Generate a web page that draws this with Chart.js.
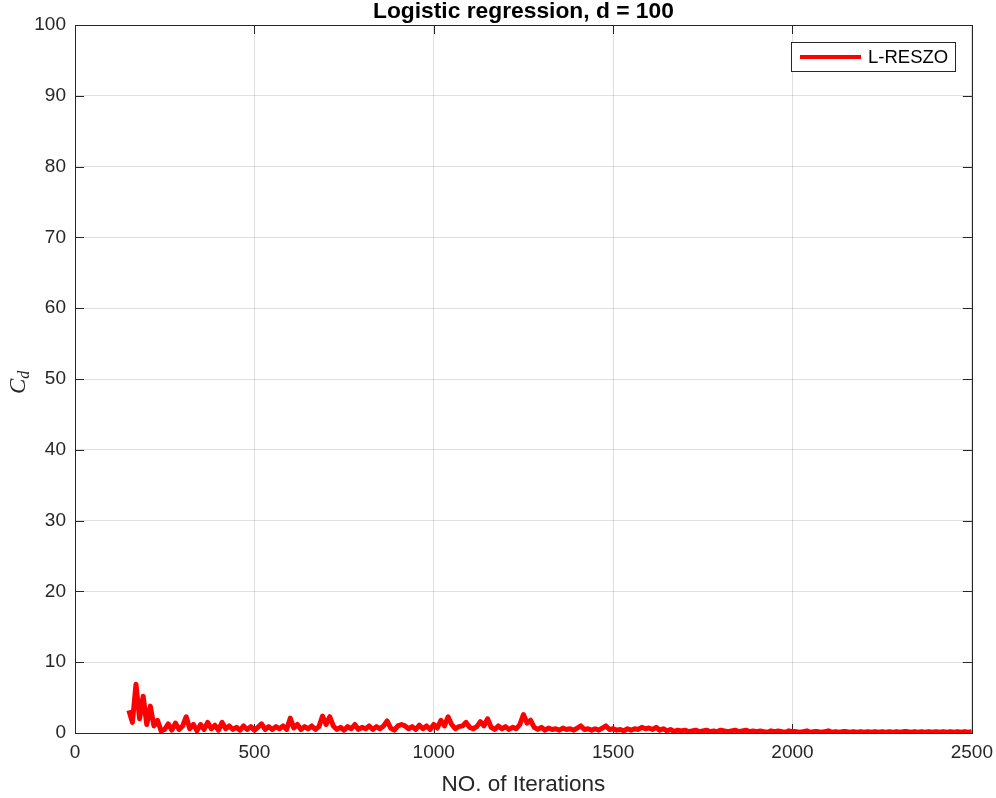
<!DOCTYPE html>
<html lang="en">
<head>
<meta charset="UTF-8">
<title>Logistic regression, d = 100</title>
<style>
  html, body { margin:0; padding:0; background:#fff; }
  #wrap { width:996px; height:798px; }
</style>
</head>
<body>
<div id="wrap"><canvas id="myChart" width="996" height="798"></canvas></div>

<script src="https://cdn.jsdelivr.net/npm/chart.js@4.4.1/dist/chart.umd.min.js"></script>
<script>
// iterations start at 150, one value every 10 iterations up to 2500
var iterStart = 150;
var iterStep = 10;
var seriesName = 'L-RESZO';
var chartTitle = 'Logistic regression, d = 100';
var cdValues = [
  3.2, 1.5, 6.9, 2.0, 5.2, 1.2, 3.8, 1.0, 1.8, 0.3,   // 150-240
  0.5, 1.3, 0.4, 1.4, 0.5, 1.0, 2.3, 0.6, 1.2, 0.3,   // 250-340
  1.2, 0.5, 1.5, 0.6, 1.1, 0.4, 1.5, 0.6, 1.0, 0.5,   // 350-440
  0.8, 0.4, 1.0, 0.5, 0.9, 0.4, 0.8, 1.3, 0.5, 0.9,   // 450-540
  0.5, 0.9, 0.6, 1.0, 0.5, 2.1, 0.7, 1.2, 0.5, 0.9,   // 550-640
  0.6, 1.0, 0.5, 0.9, 2.4, 1.2, 2.3, 1.0, 0.5, 0.8,   // 650-740
  0.4, 0.9, 0.6, 1.2, 0.5, 0.8, 0.6, 1.0, 0.5, 0.9,   // 750-840
  0.6, 1.0, 1.7, 0.7, 0.4, 1.0, 1.2, 1.0, 0.6, 0.9,   // 850-940
  0.5, 1.1, 0.6, 1.0, 0.5, 1.2, 0.7, 1.8, 1.0, 2.3,   // 950-1040
  1.2, 0.6, 0.9, 1.0, 1.5, 0.8, 0.6, 0.9, 1.6, 1.0,   // 1050-1140
  2.0, 0.8, 0.5, 1.0, 0.6, 0.9, 0.5, 0.8, 0.6, 1.2,   // 1150-1240
  2.6, 1.4, 1.8, 0.8, 0.5, 0.8, 0.4, 0.7, 0.5, 0.6,   // 1250-1340
  0.4, 0.7, 0.5, 0.6, 0.4, 0.7, 1.0, 0.5, 0.6, 0.4,   // 1350-1440
  0.6, 0.4, 0.7, 1.0, 0.5, 0.6, 0.4, 0.5, 0.3, 0.6,   // 1450-1540
  0.4, 0.6, 0.5, 0.8, 0.6, 0.7, 0.5, 0.8, 0.4, 0.6,   // 1550-1640
  0.3, 0.5, 0.2, 0.4, 0.3, 0.4, 0.2, 0.3, 0.4, 0.2,   // 1650-1740
  0.3, 0.4, 0.2, 0.3, 0.2, 0.4, 0.3, 0.2, 0.3, 0.4,   // 1750-1840
  0.2, 0.3, 0.4, 0.2, 0.3, 0.2, 0.3, 0.2, 0.1, 0.3,   // 1850-1940
  0.2, 0.3, 0.2, 0.1, 0.3, 0.2, 0.2, 0.1, 0.2, 0.3,   // 1950-2040
  0.1, 0.2, 0.2, 0.1, 0.2, 0.3, 0.1, 0.2, 0.1, 0.2,   // 2050-2140
  0.2, 0.1, 0.2, 0.1, 0.2, 0.1, 0.2, 0.1, 0.2, 0.1,   // 2150-2240
  0.2, 0.1, 0.2, 0.1, 0.2, 0.1, 0.2, 0.2, 0.1, 0.2,   // 2250-2340
  0.1, 0.2, 0.1, 0.2, 0.1, 0.2, 0.1, 0.2, 0.1, 0.2,   // 2350-2440
  0.1, 0.2, 0.1, 0.2, 0.1, 0.2                        // 2450-2500
];
var xTicks = [0, 500, 1000, 1500, 2000, 2500];
var yTicks = [0, 10, 20, 30, 40, 50, 60, 70, 80, 90, 100];

var axisColor = '#262626';
var fontFam = '"Liberation Sans", Arial, Helvetica, sans-serif';

// box around the plot and the little inward ticks (matlab style)
var boxPlugin = {
  id: 'boxPlugin',
  beforeDatasetsDraw: function(chart) {
    var ctx = chart.ctx, a = chart.chartArea;
    var xs = chart.scales.x, ys = chart.scales.y;
    ctx.save();
    ctx.strokeStyle = axisColor;
    ctx.lineWidth = 1;
    ctx.beginPath();
    xTicks.forEach(function(v) {
      var px = Math.round(xs.getPixelForValue(v)) + 0.5;
      ctx.moveTo(px, a.bottom); ctx.lineTo(px, a.bottom - 9);
      ctx.moveTo(px, a.top); ctx.lineTo(px, a.top + 9);
    });
    yTicks.forEach(function(v) {
      var py = Math.round(ys.getPixelForValue(v)) + 0.5;
      ctx.moveTo(a.left, py); ctx.lineTo(a.left + 9, py);
      ctx.moveTo(a.right, py); ctx.lineTo(a.right - 9, py);
    });
    ctx.stroke();
    ctx.strokeRect(Math.round(a.left) + 0.5, Math.round(a.top) + 0.5,
                   Math.round(a.right - a.left), Math.round(a.bottom - a.top));

    // title, centred over the plot box
    ctx.fillStyle = '#000';
    ctx.font = 'bold 22.8px ' + fontFam;
    ctx.textAlign = 'center';
    ctx.textBaseline = 'middle';
    ctx.fillText(chartTitle, (a.left + a.right) / 2, 12);

    // y label C_d
    ctx.translate(18, 383);
    ctx.rotate(-Math.PI / 2);
    ctx.fillStyle = axisColor;
    ctx.textBaseline = 'alphabetic';
    ctx.textAlign = 'left';
    ctx.font = 'italic 23px "Liberation Serif", "DejaVu Serif", serif';
    ctx.fillText('C', -11, 7);
    var w = ctx.measureText('C').width;
    ctx.font = 'italic 16px "Liberation Serif", "DejaVu Serif", serif';
    ctx.fillText('d', -11 + w, 11);
    ctx.restore();
  },
  afterDraw: function(chart) {
    var ctx = chart.ctx;
    ctx.save();
    ctx.fillStyle = '#fff';
    ctx.fillRect(791, 42, 164, 29);
    ctx.strokeStyle = axisColor;
    ctx.lineWidth = 1;
    ctx.strokeRect(791.5, 42.5, 164, 29);
    ctx.strokeStyle = '#ff0000';
    ctx.lineWidth = 4;
    ctx.beginPath();
    ctx.moveTo(800, 57);
    ctx.lineTo(861, 57);
    ctx.stroke();
    ctx.fillStyle = '#000';
    ctx.font = '18.5px ' + fontFam;
    ctx.textBaseline = 'middle';
    ctx.fillText(seriesName, 868, 57.5);
    ctx.restore();
  }
};

var points = cdValues.map(function(v, i) {
  return { x: iterStart + i * iterStep, y: v };
});

const ctx = document.getElementById('myChart').getContext('2d');
const myChart = new Chart(ctx, {
  type: 'line',
  data: {
    datasets: [{
      label: seriesName,
      data: points,
      borderColor: '#ff0000',
      backgroundColor: '#ff0000',
      borderWidth: 5,
      pointRadius: 0,
      tension: 0,
      borderJoinStyle: 'round'
    }]
  },
  options: {
    responsive: false,
    animation: false,
    devicePixelRatio: 1,
    layout: { padding: { left: 0, right: 24, top: 25, bottom: 0 } },
    plugins: {
      legend: { display: false },
      tooltip: { enabled: false },
      title: { display: false }
    },
    scales: {
      x: {
        type: 'linear',
        min: 0, max: 2500,
        afterBuildTicks: function(s) { s.ticks = xTicks.map(function(v) { return { value: v }; }); },
        afterFit: function(s) { s.height = 65; },
        // invisible tick marks just push the labels down
        grid: { color: 'rgba(38,38,38,0.15)', drawTicks: true, tickLength: 5, tickColor: 'rgba(0,0,0,0)' },
        border: { display: false },
        ticks: {
          color: axisColor, font: { family: fontFam, size: 19 }, padding: 3, maxRotation: 0,
          callback: function(v) { return String(v); }
        },
        title: {
          display: true,
          text: 'NO. of Iterations',
          color: axisColor,
          font: { family: fontFam, size: 22.5 },
          padding: { top: 0, bottom: 0 }
        }
      },
      y: {
        min: 0, max: 100,
        afterBuildTicks: function(s) { s.ticks = yTicks.map(function(v) { return { value: v }; }); },
        afterFit: function(s) { s.width = 75; },
        grid: { color: 'rgba(38,38,38,0.15)', drawTicks: false },
        border: { display: false },
        ticks: { color: axisColor, font: { family: fontFam, size: 19 }, padding: 9 }
      }
    }
  },
  plugins: [boxPlugin]
});
</script>
</body>
</html>
